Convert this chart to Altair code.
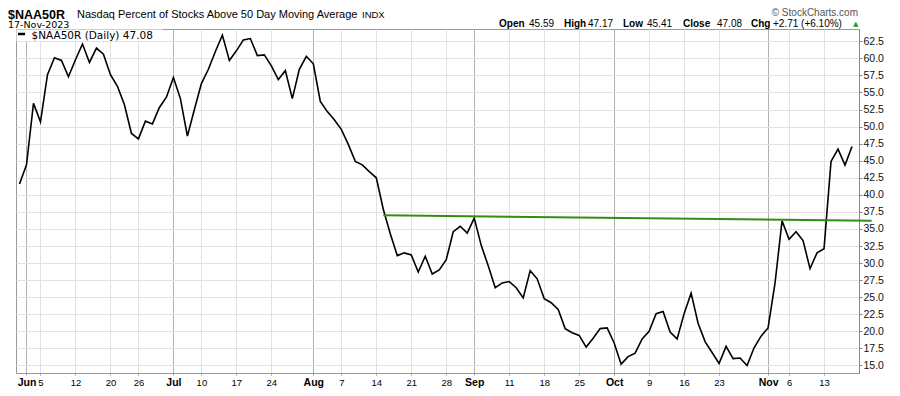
import json
import altair as alt
import pandas as pd

# ---- data (trading days 31-May-2023 .. 17-Nov-2023) ----
values = [
    41.6, 44.4, 53.4, 50.7, 57.6, 60.1, 59.7, 57.3, 59.8, 62.1,
    59.4, 61.5, 60.6, 57.6, 55.9, 53.2, 49.0, 48.2, 50.8, 50.4,
    52.8, 54.3, 57.2, 54.1, 48.6, 52.5, 56.3, 58.4, 61.0, 63.4,
    59.7, 61.1, 62.7, 62.9, 60.4, 60.5, 58.9, 56.9, 58.2, 54.1,
    58.4, 60.3, 59.2, 53.7, 52.2, 51.0, 49.6, 47.4, 44.9, 44.4,
    43.4, 42.5, 37.9, 34.3, 31.1, 31.5, 31.2, 28.7, 31.0, 28.4,
    29.0, 30.5, 34.6, 35.4, 34.4, 36.6, 32.6, 29.6, 26.4, 27.1,
    27.3, 26.4, 24.9, 28.9, 27.7, 24.8, 24.2, 23.2, 20.4, 19.8,
    19.4, 17.7, 19.0, 20.4, 20.5, 18.3, 15.2, 16.3, 16.8, 18.9,
    20.0, 22.6, 22.9, 19.9, 18.9, 22.6, 25.6, 21.2, 18.5, 16.9,
    15.3, 17.8, 16.0, 16.1, 15.0, 17.6, 19.3, 20.5, 27.1, 36.2,
    33.5, 34.6, 33.3, 29.2, 31.5, 32.1, 44.9, 46.7, 44.37, 47.08,
]
day_index = list(range(len(values)))

tick_idx = [1, 3, 8, 13, 17, 22, 26, 31, 36, 42, 46, 51, 56, 61, 65, 70, 75, 80,
            85, 90, 95, 100, 107, 110, 115]
tick_lab = ["Jun", "5", "12", "20", "26", "Jul", "10", "17", "24", "Aug", "7", "14",
            "21", "28", "Sep", "11", "18", "25", "Oct", "9", "16", "23", "Nov", "6", "13"]
month_idx = [1, 22, 42, 65, 85, 107]

y_ticks = [15.0 + 2.5 * k for k in range(20)]

trend_x = [52.0, 121.8]
trend_y = [37.0, 36.2]

title_sym = "$NAA50R"
title_name = "Nasdaq Percent of Stocks Above 50 Day Moving Average"
title_exch = "INDX"
date_text = "17-Nov-2023"
copyright_text = "\u00a9 StockCharts.com"
legend_text = "$NAA50R (Daily) 47.08"
hdr_labels = ["Open", "High", "Low", "Close", "Chg"]
hdr_values = ["45.59", "47.17", "45.41", "47.08", "+2.71 (+6.10%)"]

# ---- layout (pixels relative to plot origin) ----
hdr_label_px = [483, 548, 607, 667, 735]
hdr_value_px = [513, 572, 631, 701, 757]

df = pd.DataFrame({"i": day_index, "v": values})
trend = pd.DataFrame({"x": [trend_x[0]], "x2": [trend_x[1]], "y": [trend_y[0]], "y2": [trend_y[1]]})

x_scale = alt.Scale(domain=[-0.5, 120], nice=False, zero=False)
y_scale = alt.Scale(domain=[13.9, 64.3], nice=False, zero=False)

month_test = f"indexof({month_idx}, datum.value) >= 0"
label_expr = (f"indexof({tick_idx}, datum.value) >= 0 ? "
              f"{json.dumps(tick_lab)}[indexof({tick_idx}, datum.value)] : ''")

x_axis = alt.Axis(
    values=tick_idx, tickCount=200, labelExpr=label_expr, title=None,
    labelFont="Liberation Sans", labelColor="#000",
    labelFontWeight={"condition": {"test": month_test, "value": "bold"}, "value": "normal"},
    labelFontSize={"condition": {"test": month_test, "value": 10.5}, "value": 9.5},
    labelOverlap=False, labelFlush=False, labelPadding=2, labelBaseline="top",
    tickSize=2, tickColor="#999", domainColor="#999",
    grid=True,
    gridColor={"condition": {"test": month_test, "value": "#b0b0b0"}, "value": "#e2e2e2"},
)
y_axis = alt.Axis(
    orient="right", values=y_ticks, tickCount=200, format=".1f", title=None,
    labelFont="Liberation Sans", labelFontSize=10.5, labelColor="#111",
    labelPadding=1, tickSize=3, tickColor="#888", domainColor="#888",
    gridColor="#e2e2e2", labelOverlap=False, labelFlush=False,
)

line = alt.Chart(df).mark_line(color="#000", strokeWidth=1.6).encode(
    x=alt.X("i:Q", scale=x_scale, axis=x_axis),
    y=alt.Y("v:Q", scale=y_scale, axis=y_axis),
)

trend_rule = alt.Chart(trend).mark_rule(color="#2f8f14", strokeWidth=2).encode(
    x=alt.X("x:Q", scale=x_scale, axis=x_axis), x2="x2:Q",
    y=alt.Y("y:Q", scale=y_scale, axis=y_axis), y2="y2:Q",
)


def txt(text, px, py, size=11, weight="normal", color="#000", font="Liberation Sans", align="left"):
    return alt.Chart(pd.DataFrame({"t": [text]})).mark_text(
        align=align, baseline="alphabetic", fontSize=size, fontWeight=weight,
        color=color, font=font,
    ).encode(x=alt.value(px), y=alt.value(py), text="t:N")


legend_box = alt.Chart(pd.DataFrame({"t": [legend_text]})).mark_rect(
    fill="white"
).encode(x=alt.value(0.5), x2=alt.value(147), y=alt.value(0.5), y2=alt.value(12))
legend_mark = alt.Chart(pd.DataFrame({"t": [legend_text]})).mark_rule(
    color="#000", strokeWidth=2.5
).encode(x=alt.value(2), x2=alt.value(9), y=alt.value(5), y2=alt.value(5))

layers = [legend_box, line, trend_rule, legend_mark,
          txt(legend_text, 15.5, 9.5, size=10.5, font="DejaVu Sans"),
          txt(title_sym, -8, -10, size=12.5, weight="bold"),
          txt(title_name, 61, -11, size=11),
          txt(title_exch, 346, -11, size=9.5),
          txt(date_text, -8, -1, size=9.5, font="DejaVu Sans"),
          txt(copyright_text, 842, -13, size=10, color="#555", align="right"),
          txt("\u25b2", 837, -3, size=7, color="#1f9e1f", font="DejaVu Sans")]
for lab, px in zip(hdr_labels, hdr_label_px):
    layers.append(txt(lab, px, -2, size=10, weight="bold"))
for val, px in zip(hdr_values, hdr_value_px):
    layers.append(txt(val, px, -2, size=10))

chart = alt.layer(*layers).properties(
    width=843, height=344,
    autosize=alt.AutoSizeParams(type="none"),
    padding={"left": 8, "top": 21, "right": 33, "bottom": 15},
    background="white",
).configure_view(stroke="#999", strokeWidth=1)

chart.save("out.html", embed_options={"renderer": "svg", "actions": False})
